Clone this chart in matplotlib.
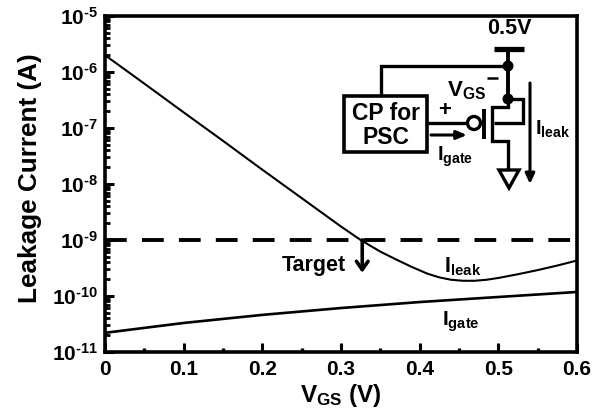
import matplotlib
matplotlib.use("Agg")
from matplotlib import pyplot as plt
from matplotlib.patches import Rectangle, Circle, Polygon
from matplotlib.ticker import FixedLocator, FixedFormatter, LogLocator, NullFormatter

plt.rcParams['font.family'] = ['Liberation Sans', 'DejaVu Sans']
plt.rcParams['font.weight'] = 'bold'
plt.rcParams['mathtext.fontset'] = 'custom'
plt.rcParams['mathtext.rm'] = 'Liberation Sans:bold'
plt.rcParams['mathtext.bf'] = 'Liberation Sans:bold'
plt.rcParams['mathtext.it'] = 'Liberation Sans:bold'
plt.rcParams['mathtext.default'] = 'rm'

W, H = 603, 416

vgs_leak = [0, 0.05, 0.1, 0.15, 0.2, 0.25, 0.3, 0.325, 0.35, 0.37, 0.39, 0.41, 0.425, 0.44, 0.455, 0.47, 0.485, 0.5, 0.525, 0.55, 0.575, 0.6]
i_leak = [2e-6, 6.2e-7, 1.9e-7, 5.9e-8, 1.8e-8, 5.6e-9, 1.74e-9, 1e-9, 6.2e-10, 4.5e-10, 3.3e-10, 2.5e-10,
          2.15e-10, 1.95e-10, 1.87e-10, 1.87e-10, 1.95e-10, 2.1e-10, 2.45e-10, 2.9e-10, 3.5e-10, 4.3e-10]
vgs_gate = [0, 0.1, 0.2, 0.3, 0.4, 0.5, 0.6]
i_gate = [2.2e-11, 3.3e-11, 4.6e-11, 6.1e-11, 7.8e-11, 9.6e-11, 1.18e-10]
target = 1e-9

x_ticks = [0, 0.1, 0.2, 0.3, 0.4, 0.5, 0.6]
x_labels = ['0', '0.1', '0.2', '0.3', '0.4', '0.5', '0.6']
x_minor = [0.05, 0.15, 0.25, 0.35, 0.45, 0.55]
y_ticks = [1e-11, 1e-10, 1e-9, 1e-8, 1e-7, 1e-6, 1e-5]
y_labels = [r'$10^{\text{-}%d}$' % n for n in (11, 10, 9, 8, 7, 6, 5)]

fig = plt.figure(figsize=(W / 100, H / 100), dpi=100)
ax = fig.add_axes([105 / W, 1 - 352 / H, (577 - 105) / W, (352 - 16) / H])

ax.plot(vgs_leak, i_leak, color='black', lw=1.5)
ax.plot(vgs_gate, i_gate, color='black', lw=1.9)
ax.axhline(target, color='black', lw=2.8, dashes=(5.6, 3.9))

ax.set_yscale('log')
ax.set_xlim(0, 0.6)
ax.set_ylim(1e-11, 1e-5)
ax.xaxis.set_major_locator(FixedLocator(x_ticks))
ax.xaxis.set_major_formatter(FixedFormatter(x_labels))
ax.xaxis.set_minor_locator(FixedLocator(x_minor))
ax.yaxis.set_major_locator(FixedLocator(y_ticks))
ax.yaxis.set_major_formatter(FixedFormatter(y_labels))
ax.yaxis.set_minor_locator(LogLocator(base=10, subs=range(2, 10), numticks=12))
ax.yaxis.set_minor_formatter(NullFormatter())
ax.tick_params(which='major', direction='in', length=6.5, width=2.2, labelsize=15, pad=6)
ax.tick_params(axis='x', which='minor', direction='in', length=3, width=2.4)
ax.tick_params(axis='y', which='minor', direction='in', length=3.5, width=2)
ax.tick_params(axis='y', which='major', pad=5)
for s in ax.spines.values():
    s.set_linewidth(2.6)

ax.set_xlabel(r'$\mathrm{V_{GS}}$ (V)', fontsize=17.5, fontweight='bold', labelpad=2)
ax.set_ylabel('Leakage Current (A)', fontsize=18.8, fontweight='bold', labelpad=7, y=0.518)

# curve labels and target arrow
ax.annotate('', xy=(0.327, 2.6e-10), xytext=(0.327, 1e-9),
            arrowprops=dict(arrowstyle='->,head_width=0.42,head_length=0.6', lw=2.6, color='black', shrinkA=0, shrinkB=0))
ax.text(0.306, 3.5e-10, 'Target', fontsize=15.5, ha='right', va='center')
ax.text(0.431, 3.3e-10, r'$\mathrm{I_{leak}}$', fontsize=15.5, ha='left', va='center')
ax.text(0.428, 3.4e-11, r'$\mathrm{I_{gate}}$', fontsize=15, ha='left', va='center')

# inset schematic, drawn in image pixels
sk = fig.add_axes([0, 0, 1, 1], facecolor='none')
sk.set_xlim(0, W)
sk.set_ylim(H, 0)
sk.axis('off')


def wire(xs, ys, lw=2.4):
    sk.plot(xs, ys, color='black', lw=lw, solid_capstyle='butt', solid_joinstyle='miter')


wire([494, 524], [49, 49], lw=3.8)
wire([508, 508], [49, 100], lw=2.8)
wire([381, 381, 508], [96, 66, 66])
wire([508, 523, 523, 494], [99, 99, 123, 123])
wire([508, 508, 492, 492, 508, 508], [99, 107, 107, 141, 141, 170])
wire([484, 484], [109, 139], lw=2.8)
wire([428, 468], [123, 123])
sk.add_patch(Rectangle((344, 96), 83, 56, fc='white', ec='black', lw=2.6))
sk.add_patch(Circle((474, 123), 6.5, fc='white', ec='black', lw=2.4))
sk.add_patch(Circle((508, 66), 4.8, fc='black', ec='black'))
sk.add_patch(Circle((508, 99), 4.8, fc='black', ec='black'))
sk.add_patch(Polygon([[499, 170], [519, 170], [509, 188]], fc='white', ec='black', lw=2.4))
sk.annotate('', xy=(467, 135), xytext=(431, 135),
            arrowprops=dict(arrowstyle='-|>,head_width=0.25,head_length=0.6', lw=2.2, color='black', shrinkA=0, shrinkB=0))
sk.annotate('', xy=(530, 184), xytext=(530, 83),
            arrowprops=dict(arrowstyle='-|>,head_width=0.28,head_length=0.6', lw=2.2, color='black', shrinkA=0, shrinkB=0))
wire([487, 498], [78, 78], lw=1.8)

sk.text(509, 29, '0.5V', fontsize=15.5, ha='center', va='center')
sk.text(386, 113, 'CP for', fontsize=16.5, ha='center', va='center')
sk.text(386, 137, 'PSC', fontsize=16.5, ha='center', va='center')
sk.text(445, 111, '+', fontsize=16, ha='center', va='center')
sk.text(467, 91, r'$\mathrm{V_{GS}}$', fontsize=16, ha='center', va='center')
sk.text(437, 157, r'$\mathrm{I_{gate}}$', fontsize=14.5, ha='left', va='center')
sk.text(535, 129, r'$\mathrm{I_{leak}}$', fontsize=14.5, ha='left', va='center')

fig.savefig('out.png', dpi=100)
